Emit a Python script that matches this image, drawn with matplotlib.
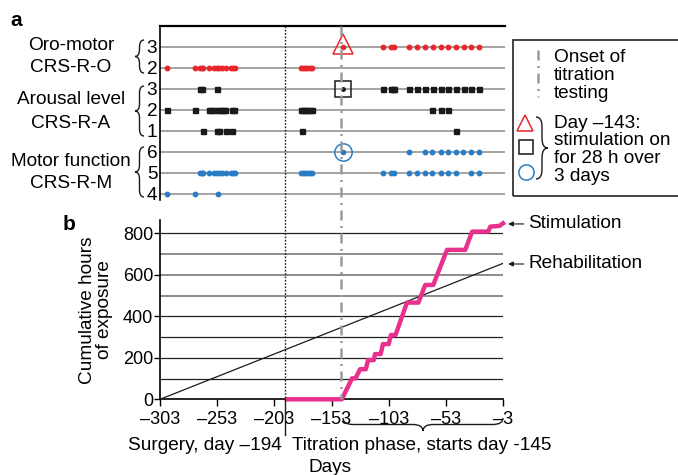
import numpy as np
import matplotlib.pyplot as plt
import matplotlib.transforms as mtransforms
from matplotlib.path import Path
from matplotlib.patches import PathPatch, Rectangle
from matplotlib.lines import Line2D

# ---- panel a: days of each CRS-R score (rows top to bottom) ----
oro3_days = [-108, -101, -98, -85, -78, -71, -64, -57, -51, -44, -37, -31, -24]
oro2_days = [-297, -272, -268, -266, -265, -260, -256, -253, -251, -249, -245,
             -241, -239, -237, -180, -178, -176, -174, -172, -170]
aro3_days = [-268, -266, -253, -108, -101, -99, -98, -85, -78, -71, -64, -57,
             -51, -44, -37, -31, -24]
aro2_days = [-297, -272, -260, -258, -256, -252, -250, -248, -246, -240, -238,
             -180, -178, -176, -174, -172, -170, -65, -57, -51]
aro1_days = [-265, -253, -251, -245, -240, -179, -44]
mot6_days = [-85, -71, -65, -57, -51, -44, -38, -31, -24]
mot5_days = [-268, -266, -265, -260, -256, -253, -251, -249, -245, -241, -239,
             -237, -180, -178, -176, -174, -172, -170, -108, -101, -98, -85,
             -78, -71, -65, -57, -51, -44, -31, -24]
mot4_days = [-297, -272, -252]
row_labels = ['3', '2', '3', '2', '1', '6', '5', '4']
stim_day = -143
surgery_day = -194
titration_day = -145

# ---- panel b: cumulative hours ----
stim_days = [-192, -144, -135, -132, -128, -123, -121, -116, -115, -110, -108,
             -103, -101, -97, -87, -77, -71, -64, -52, -36, -30, -16, -14, -6, -3]
stim_hours = [0, 0, 101, 101, 145, 145, 189, 189, 218, 218, 266, 266, 310, 310,
              466, 466, 551, 551, 720, 720, 808, 808, 832, 836, 848]
rehab_days = [-303, -3]
rehab_hours = [0, 655]
xtick_vals = [-303, -253, -203, -153, -103, -53, -3]
xtick_labels = ['\u2013303', '\u2013253', '\u2013203', '\u2013153', '\u2013103', '\u201353', '\u20133']

RED = '#e8262b'
BLK = '#1a1a1a'
BLUE = '#2a7dc4'
PINK = '#e8318c'
GRAY = '#9a9a9a'

plt.rcParams['font.family'] = ['Liberation Sans', 'DejaVu Sans']
plt.rcParams['font.size'] = 13.7

W, H = 678, 475
fig = plt.figure(figsize=(W / 100, H / 100), dpi=100)


def fp(x, y):
    # figure pixels (from top-left) -> figure fraction
    return x / W, 1 - y / H


def brace(p0, p1, depth, lw=1.0):
    # curly brace from p0 to p1 (figure pixels), tip offset by depth (perpendicular)
    p0 = np.array(p0, float)
    p1 = np.array(p1, float)
    u = (p1 - p0) / np.linalg.norm(p1 - p0)
    n = np.array([-u[1], u[0]])
    L = np.linalg.norm(p1 - p0)
    d = min(abs(depth) * 0.8, L / 4)

    def P(s, t):
        q = p0 + u * s + n * t
        return fp(q[0], q[1])
    h = depth / 2
    verts = [P(0, 0), P(0, h), P(d, h), P(L / 2 - d, h), P(L / 2, h), P(L / 2, depth),
             P(L / 2, h), P(L / 2 + d, h), P(L - d, h), P(L, h), P(L, 0)]
    codes = [Path.MOVETO, Path.CURVE3, Path.CURVE3, Path.LINETO, Path.CURVE3, Path.CURVE3,
             Path.CURVE3, Path.CURVE3, Path.LINETO, Path.CURVE3, Path.CURVE3]
    fig.add_artist(PathPatch(Path(verts, codes), fc='none', ec=BLK, lw=lw,
                             transform=fig.transFigure))


# ---------------- panel a ----------------
ax_a = fig.add_axes([160 / W, 1 - 200 / H, 345 / W, 174 / H])
ax_a.set_xlim(-303, -1)
ax_a.set_ylim(-0.3, 7.98)
for yy in range(8):
    ax_a.axhline(yy, color='#8c8c8c', lw=1.1, zorder=1)

rows = [(oro3_days, 7, RED, 'o', 3.2), (oro2_days, 6, RED, 'o', 3.2),
        (aro3_days, 5, BLK, 's', 3.6), (aro2_days, 4, BLK, 's', 3.6),
        (aro1_days, 3, BLK, 's', 3.6), (mot6_days, 2, BLUE, 'o', 3.2),
        (mot5_days, 1, BLUE, 'o', 3.2), (mot4_days, 0, BLUE, 'o', 3.2)]
for days, yy, col, mk, ms in rows:
    ax_a.plot(days, [yy] * len(days), ls='none', marker=mk, ms=ms, color=col,
              mec=col, zorder=3)

# stimulation on day -143
ax_a.plot([stim_day] * 3, [7, 5, 2], ls='none', marker='o', ms=2.5, color=BLK, zorder=4)
ax_a.plot([stim_day], [7], ls='none', marker='o', ms=3, color=RED, zorder=5)
ax_a.plot([stim_day], [2], ls='none', marker='o', ms=3, color=BLUE, zorder=5)
ax_a.plot([stim_day], [7.12], marker='^', ms=14, mfc='none', mec=RED, mew=1.1, zorder=5)
ax_a.plot([stim_day], [5], marker='s', ms=11.5, mfc='none', mec=BLK, mew=1.1, zorder=5)
ax_a.plot([stim_day], [2], marker='o', ms=12.5, mfc='none', mec=BLUE, mew=1.1, zorder=5)

ax_a.set_xticks([])
ax_a.set_yticks(range(8))
ax_a.set_yticklabels(row_labels[::-1])
ax_a.tick_params(axis='y', length=0, pad=2)
for s in ['right', 'bottom']:
    ax_a.spines[s].set_visible(False)
ax_a.spines['top'].set_linewidth(1.6)
ax_a.spines['left'].set_linewidth(1.2)
ax_a.patch.set_alpha(0)

# ---------------- panel b ----------------
ax_b = fig.add_axes([160 / W, 1 - 399.3 / H, 343 / W, 179.3 / H])
ax_b.set_xlim(-303, -3)
ax_b.set_ylim(0, 864)
for g in [100, 200, 300, 400, 800]:
    ax_b.axhline(g, color='#222222', lw=0.9, zorder=1)
for g in [500, 600, 700]:
    ax_b.axhline(g, color='#8c8c8c', lw=1.4, zorder=1)

ax_b.plot(rehab_days, rehab_hours, color=BLK, lw=0.9, zorder=3)
ax_b.plot(stim_days, stim_hours, color=PINK, lw=3.2, clip_on=False, zorder=4)

ax_b.set_xticks(xtick_vals)
ax_b.set_xticklabels(xtick_labels)
ax_b.set_yticks([0, 200, 400, 600, 800])
ax_b.tick_params(axis='x', direction='out', length=5, width=1, pad=3.5, labelsize=13)
ax_b.tick_params(axis='y', direction='out', length=4, width=1, pad=1, labelsize=13)
for s in ['right', 'top']:
    ax_b.spines[s].set_visible(False)
ax_b.spines['left'].set_linewidth(1.2)
ax_b.spines['bottom'].set_linewidth(1.2)
ax_b.patch.set_alpha(0)

ax_b.annotate('Stimulation', xy=(1.5, 845), xycoords='data', textcoords='figure pixels',
              xytext=(528, H - 224), ha='left', va='center', annotation_clip=False,
              arrowprops=dict(arrowstyle='-|>', lw=0.8, color=BLK, shrinkA=1, shrinkB=0,
                              mutation_scale=7))
ax_b.annotate('Rehabilitation', xy=(1.5, 652), xycoords='data', textcoords='figure pixels',
              xytext=(528, H - 264), ha='left', va='center', annotation_clip=False,
              arrowprops=dict(arrowstyle='-|>', lw=0.8, color=BLK, shrinkA=1, shrinkB=0,
                              mutation_scale=7))

# vertical markers across both panels
tr = mtransforms.blended_transform_factory(ax_b.transData, fig.transFigure)
fig.add_artist(Line2D([surgery_day] * 2, [1 - 26 / H, 1 - 399.3 / H], transform=tr,
                      color=BLK, lw=1.0, ls=(0, (1.2, 1.2)), zorder=2))
fig.add_artist(Line2D([surgery_day] * 2, [1 - 399.3 / H, 1 - 435 / H], transform=tr,
                      color=BLK, lw=1.0))
fig.add_artist(Line2D([titration_day] * 2, [1 - 26 / H, 1 - 399.3 / H], transform=tr,
                      color=GRAY, lw=1.8, dashes=(4, 2.2, 0.8, 2.2), zorder=2))

# ---------------- labels ----------------
fig.text(*fp(16, 20), 'a', weight='bold', fontsize=15, ha='center', va='center')
fig.text(*fp(69, 225), 'b', weight='bold', fontsize=15, ha='center', va='center')
for txt, y in [('Oro-motor', 46), ('CRS-R-O', 68), ('Arousal level', 100),
               ('CRS-R-A', 123), ('Motor function', 162), ('CRS-R-M', 184)]:
    fig.text(*fp(71, y), txt, ha='center', va='center')
brace((144, 40), (144, 73), 9)
brace((144, 86), (144, 136), 9)
brace((144, 147), (144, 197), 9)

fig.text(*fp(96, 310), 'Cumulative hours\nof exposure', rotation=90, ha='center',
         va='center', multialignment='center', linespacing=1.05)
fig.text(*fp(282, 446), 'Surgery, day \u2013194', ha='right', va='center')
fig.text(*fp(292, 446), 'Titration phase, starts day -145', ha='left', va='center')
fig.text(*fp(330, 467), 'Days', ha='center', va='center')
brace((503, 418), (343, 418), -13)

# ---------------- legend box ----------------
fig.add_artist(Rectangle(fp(513, 196), 200 / W, 156 / H, transform=fig.transFigure,
                         fill=False, ec='#222222', lw=1.2))
fig.add_artist(Line2D([538 / W] * 2, [1 - 50 / H, 1 - 97 / H], transform=fig.transFigure,
                      color=GRAY, lw=1.8, dashes=(4, 2.2, 0.8, 2.2)))
fig.text(*fp(554, 49.5), 'Onset of\ntitration\ntesting', ha='left', va='top', linespacing=1.06)
fig.add_artist(Line2D([525 / W], [1 - 123 / H], transform=fig.transFigure, marker='^',
                      ms=11, mfc='none', mec=RED, mew=1.1))
fig.add_artist(Line2D([526 / W], [1 - 147 / H], transform=fig.transFigure, marker='s',
                      ms=10.5, mfc='none', mec=BLK, mew=1.1))
fig.add_artist(Line2D([526 / W], [1 - 172 / H], transform=fig.transFigure, marker='o',
                      ms=11, mfc='none', mec=BLUE, mew=1.1))
brace((536, 117), (536, 179), -12)
fig.text(*fp(554, 114.5), 'Day \u2013143:\nstimulation on\nfor 28 h over\n3 days', ha='left',
         va='top', linespacing=1.06)

fig.savefig('out.png', dpi=100)
